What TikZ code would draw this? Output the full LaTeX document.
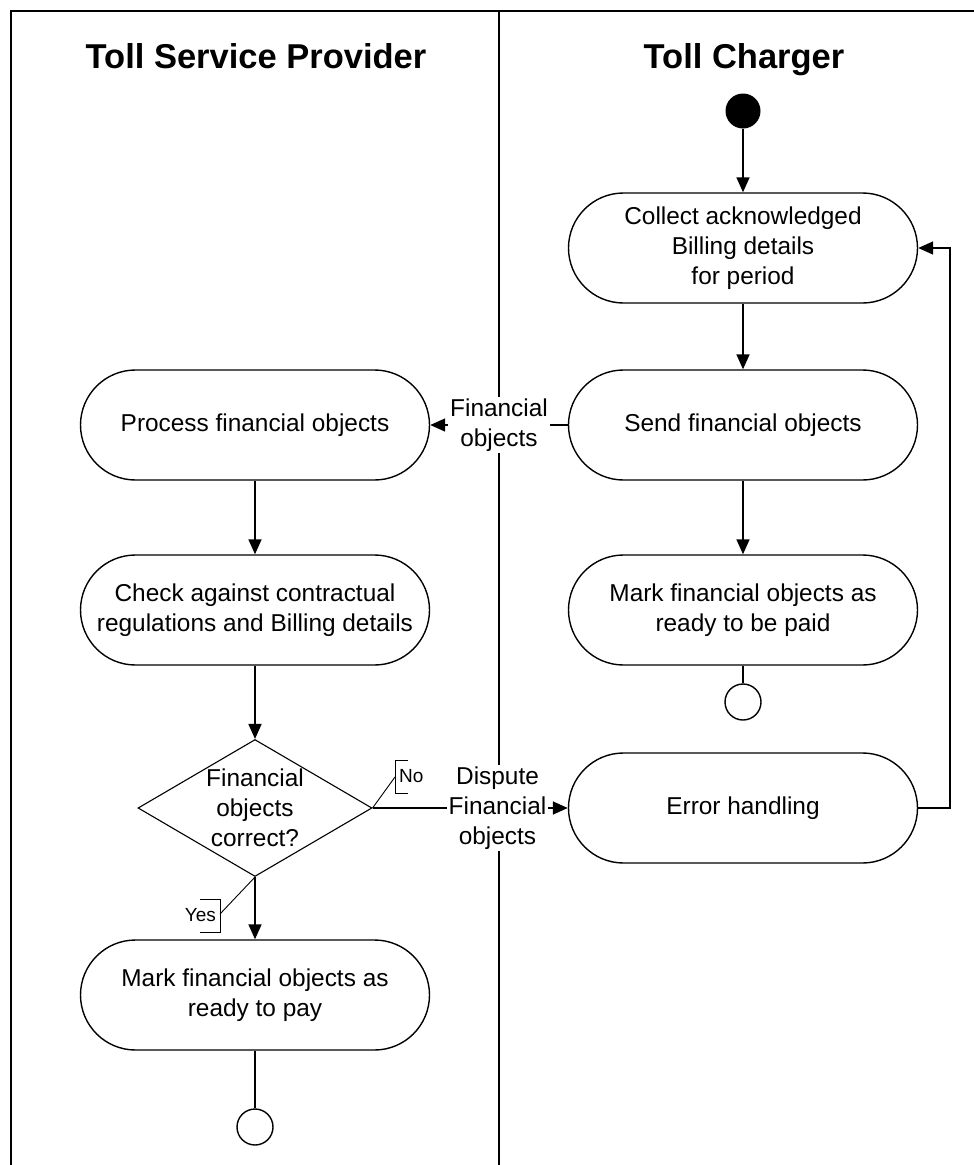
\documentclass[tikz,border=0pt]{standalone}
\usepackage{fontspec}
\setmainfont{Liberation Sans}
\usetikzlibrary{arrows.meta,shapes.geometric}
\begin{document}
\begin{tikzpicture}[x=1pt,y=-1pt,
  every node/.style={font=\fontsize{24.4}{30}\selectfont, align=center, inner sep=1pt},
  lane/.style={line width=1.6pt},
  action/.style={draw, line width=1.4pt, minimum width=349pt, minimum height=110pt, rounded corners=55pt},
  decision/.style={draw, line width=1.1pt, diamond, minimum width=234pt, minimum height=137pt, inner sep=0pt},
  flow/.style={line width=1.6pt, -{Triangle[length=15pt,width=13pt]}},
  plain/.style={line width=1.6pt},
  guard/.style={line width=0.9pt},
  guardtext/.style={font=\fontsize{19}{22}\selectfont},
  title/.style={font=\fontsize{34.5}{40}\selectfont\bfseries, anchor=base},
  flowlabel/.style={fill=white, inner sep=2pt},
  initial/.style={circle, fill=black, minimum size=35pt, inner sep=0pt},
  final/.style={circle, draw, line width=1.4pt, minimum size=36pt, inner sep=0pt}]
\useasboundingbox (0,0) rectangle (974,1165);

% swimlanes
\coordinate (tl) at (11,11);
\coordinate (tr) at (974,11);
\coordinate (bl) at (11,1165);
\coordinate (tm) at (499,11);
\coordinate (bm) at (499,1165);
\draw[lane] (bl) -- (tl) -- (tr);
\draw[lane] (tm) -- (bm);
\node[title] (tsp) at (256,68) {Toll Service Provider};
\node[title] (tc) at (744,68) {Toll Charger};

% Toll Charger lane
\node[initial] (start) at (743,111) {};
\node[action] (collect) at (743,248) {Collect acknowledged\\Billing details\\for period};
\node[action] (send) at (743,425) {Send financial objects};
\node[action] (markc) at (743,610) {Mark financial objects as\\ready to be paid};
\node[final] (endc) at (743,702) {};
\node[action] (error) at (743,808) {Error handling};

% Toll Service Provider lane
\node[action] (process) at (255,425) {Process financial objects};
\node[action] (check) at (255,610) {Check against contractual\\regulations and Billing details};
\node[decision] (dec) at (255,808) {};
\node (dectext) at (255,808) {Financial\\objects\\correct?};
\node[action] (markp) at (255,995) {Mark financial objects as\\ready to pay};
\node[final] (endp) at (255,1127) {};

% control flow
\draw[flow] (start) -- (collect);
\draw[flow] (collect) -- (send);
\draw[flow] (send) -- (markc);
\draw[plain] (markc) -- (endc);
\draw[flow] (send) -- node[flowlabel, pos=0.5] (fo) {Financial\\objects} (process);
\draw[flow] (process) -- (check);
\draw[flow] (check) -- (dec);
\draw[flow] (dec.south) -- (markp);
\draw[plain] (markp) -- (endp);
\draw[flow] (dec.east) -- node[flowlabel, pos=0.64] (dfo) {Dispute\\Financial\\objects} (error);
\coordinate (loopr) at (950,808);
\coordinate (loopt) at (950,248);
\draw[flow] (error.east) -- (loopr) -- (loopt) -- (collect.east);

% guards
\coordinate (nob1) at (408,760);
\coordinate (nob2) at (395,760);
\coordinate (nob3) at (395,793);
\coordinate (nob4) at (408,793);
\coordinate (nom) at (395,777);
\draw[guard] (nob1) -- (nob2) -- (nob3) -- (nob4);
\draw[guard] (dec.east) -- (nom);
\node[guardtext, anchor=west] (no) at (398,776) {No};
\coordinate (yb1) at (200,899);
\coordinate (yb2) at (220,899);
\coordinate (yb3) at (220,932);
\coordinate (yb4) at (200,932);
\coordinate (ym) at (220,914);
\draw[guard] (yb1) -- (yb2) -- (yb3) -- (yb4);
\draw[guard] (dec.south) -- (ym);
\node[guardtext, anchor=east] (yes) at (217,915) {Yes};
\end{tikzpicture}
\end{document}
